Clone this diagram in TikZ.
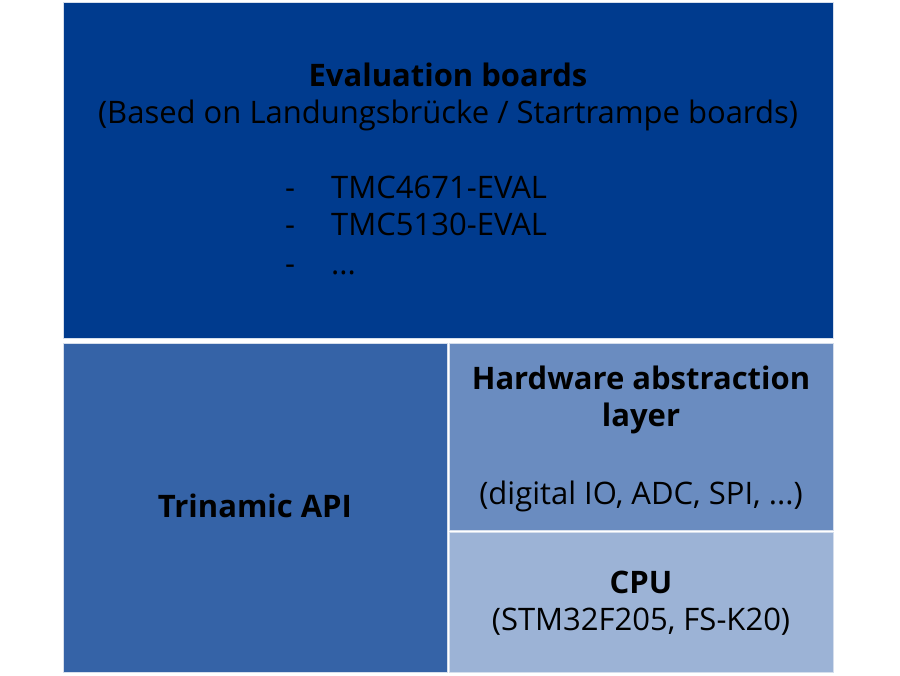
\documentclass[tikz,border=0pt]{standalone}
\usepackage{fontspec}
\setmainfont{Open Sans}
\definecolor{ctop}{HTML}{003B8E}
\definecolor{cleft}{HTML}{3563A7}
\definecolor{chal}{HTML}{6A8CC0}
\definecolor{ccpu}{HTML}{9CB3D6}
\definecolor{cline}{HTML}{D5DEEC}
\begin{document}
\begin{tikzpicture}[x=1pt,y=-1pt,
  box/.style={draw=cline,line width=0.8pt,inner sep=0pt,anchor=north west},
  txt/.style={font=\fontsize{31}{37}\selectfont,text=black,inner sep=0pt,anchor=base},
  btxt/.style={txt,font=\fontsize{31}{37}\selectfont\bfseries}]
\useasboundingbox[fill=white] (0,0) rectangle (900,676);
\node[box,fill=ctop,minimum width=770pt,minimum height=336pt] (top) at (63,2) {};
\node[box,fill=cleft,minimum width=384pt,minimum height=329pt] (api) at (63,343) {};
\node[box,fill=chal,minimum width=384pt,minimum height=187pt] (hal) at (449,343) {};
\node[box,fill=ccpu,minimum width=384pt,minimum height=140pt] (cpu) at (449,532) {};
% top texts
\node[btxt] (t1) at (448,87) {Evaluation boards};
\node[txt] (t2) at (448,124) {(Based on Landungsbrücke / Startrampe boards)};
\node[txt] (d1) at (290,199) {-};
\node[txt] (d2) at (290,236) {-};
\node[txt] (d3) at (290,275) {-};
\node[txt,anchor=base west] (l1) at (331,199) {TMC4671-EVAL};
\node[txt,anchor=base west] (l2) at (331,236) {TMC5130-EVAL};
\node[txt,anchor=base west] (l3) at (331,275) {...};
% api
\node[btxt] (a1) at (255,517) {Trinamic API};
% hal
\node[btxt] (h1) at (641,389) {Hardware abstraction};
\node[btxt] (h2) at (641,426) {layer};
\node[txt] (h3) at (641,504) {(digital IO, ADC, SPI, ...)};
% cpu
\node[btxt] (c1) at (641,593) {CPU};
\node[txt] (c2) at (641,630) {(STM32F205, FS-K20)};
\end{tikzpicture}
\end{document}
